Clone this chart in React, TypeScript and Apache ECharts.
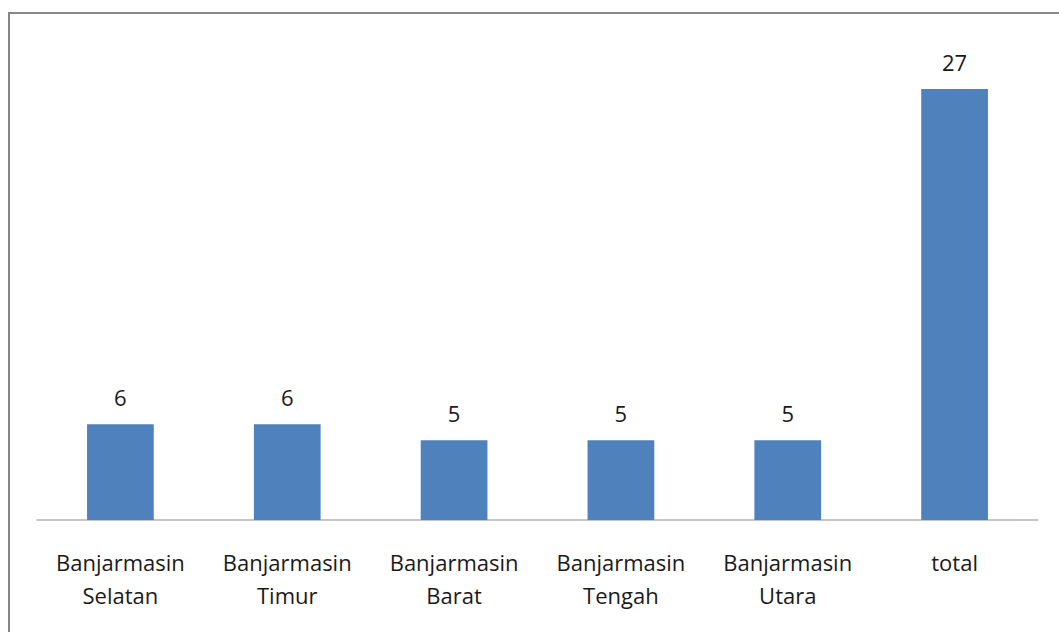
import React, { useEffect, useRef } from "react";
import * as echarts from "echarts";

const categories = [
  "Banjarmasin\nSelatan",
  "Banjarmasin\nTimur",
  "Banjarmasin\nBarat",
  "Banjarmasin\nTengah",
  "Banjarmasin\nUtara",
  "total",
];
const values = [6, 6, 5, 5, 5, 27];

const FONT = "'Open Sans', 'Noto Sans', sans-serif";

export default function App() {
  const ref = useRef<HTMLDivElement>(null);

  useEffect(() => {
    if (!ref.current) return;
    const chart = echarts.init(ref.current, undefined, { renderer: "svg" });
    chart.setOption({
      animation: false,
      backgroundColor: "#ffffff",
      graphic: [
        {
          type: "rect",
          shape: { x: 9, y: 13, width: 1200, height: 800 },
          style: { fill: "none", stroke: "#878787", lineWidth: 2 },
          silent: true,
        },
      ],
      grid: { left: 37, right: 21, top: 41, bottom: 112 },
      xAxis: {
        type: "category",
        data: categories,
        axisLine: { show: true, lineStyle: { color: "#b3b3b3", width: 1.5 } },
        axisTick: { show: false },
        axisLabel: {
          color: "#1a1a1a",
          fontFamily: FONT,
          fontSize: 22,
          lineHeight: 33,
          margin: 25,
          interval: 0,
        },
      },
      yAxis: {
        type: "value",
        min: 0,
        max: 30,
        show: false,
        splitLine: { show: false },
      },
      series: [
        {
          type: "bar",
          data: values,
          barCategoryGap: "60%",
          itemStyle: { color: "#4f81bd" },
          label: {
            show: true,
            position: "top",
            distance: 16,
            color: "#1a1a1a",
            fontFamily: FONT,
            fontSize: 22,
          },
        },
      ],
    });
    return () => chart.dispose();
  }, []);

  return (
    <div
      ref={ref}
      style={{ position: "fixed", left: 0, top: 0, width: 1059, height: 632 }}
    />
  );
}
